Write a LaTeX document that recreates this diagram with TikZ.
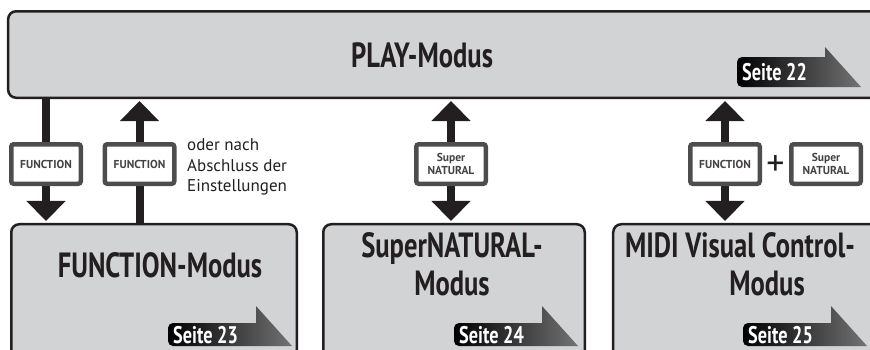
\documentclass[tikz,border=0pt]{standalone}
\usepackage{fontspec}
\setmainfont{PT Sans}
\newfontfamily\condfont[FakeStretch=0.76]{PT Sans}
\usetikzlibrary{arrows.meta,backgrounds,positioning}
\definecolor{boxgray}{RGB}{209,211,212}
\definecolor{inkblack}{RGB}{35,31,32}
\definecolor{framegray}{RGB}{77,77,79}
\tikzset{
  modebox/.style={draw=inkblack, line width=2.5pt, fill=boxgray, rounded corners=8pt, inner sep=0pt},
  modetitle/.style={font=\condfont\bfseries\fontsize{35}{38}\selectfont, text=inkblack, anchor=base, inner sep=0pt},
  btn/.style={draw=framegray, line width=4.5pt, fill=white, rounded corners=2.5pt, minimum width=69.5pt,
    minimum height=39.5pt, inner sep=0pt, align=center, text=inkblack!85, font=\bfseries\fontsize{11.5}{12.5}\selectfont},
  bigarrow/.style={line width=8pt, draw=inkblack, shorten >=2pt, -{Triangle[width=38pt,length=20pt]}},
  tagtext/.style={font=\condfont\bfseries\fontsize{24}{24}\selectfont, text=white, anchor=base west, inner sep=0pt}
}
% x, bottom, top, number
\newcommand{\seitetag}[4]{%
  \shade[left color=black, right color=black!55] ({#1+88},#3) [rounded corners=5pt] -- (#1,#3) -- (#1,#2)
    [sharp corners] -- ({#1+124},#2) -- ({#1+88},{#2-40}) -- cycle;
  \node[tagtext] at ({#1+5},{(#2+#3)/2+8.5}) {Seite #4};
}
\begin{document}
\begin{tikzpicture}[x=1pt, y=-1pt]
  \useasboundingbox (0,0) rectangle (870,349);
  % boxes
  \node[modebox, minimum width=881.75pt, minimum height=86.5pt] (play) at (449,54.5) {};
  \node[modebox, minimum width=285.5pt, minimum height=145.75pt] (fnbox) at (154,297.1) {};
  \node[modebox, minimum width=261.5pt, minimum height=145.75pt] (snbox) at (454,297.1) {};
  \node[modebox, minimum width=286.75pt, minimum height=145.75pt] (midibox) at (756.6,297.1) {};
  \node[modetitle] (playtitle) at (422,67) {PLAY-Modus};
  \node[modetitle] (fntitle) at (160,277) {FUNCTION-Modus};
  \node[modetitle] (sntitleA) at (452,257) {SuperNATURAL-};
  \node[modetitle] (sntitleB) at (452,295) {Modus};
  \node[modetitle] (midititleA) at (740,257) {MIDI Visual Control-};
  \node[modetitle] (midititleB) at (767,295) {Modus};
  \seitetag{737}{87}{57}{22}
  \seitetag{168}{346}{323}{23}
  \seitetag{454}{346}{323}{24}
  \seitetag{743}{346}{323}{25}
  % buttons
  \node[btn] (fnbtnA) at (46,164) {FUNCTION};
  \node[btn] (fnbtnB) at (139.5,164) {FUNCTION};
  \node[btn] (snbtnA) at (451,164) {Super\\NATURAL};
  \node[btn] (fnbtnC) at (725,164) {FUNCTION};
  \node[btn] (snbtnB) at (826,164) {Super\\NATURAL};
  \node[text=inkblack, font=\fontsize{36}{36}\selectfont, inner sep=0pt] (plus) at (775.5,166) {+};
  \node[anchor=west, align=left, text=inkblack, inner sep=0pt, font=\fontsize{17}{20.5}\selectfont] (hint) at (187,167) {oder nach\\Abschluss der\\Einstellungen};
  % connectors
  \begin{scope}[on background layer]
    \draw[bigarrow] (play.south -| fnbtnA) -- (fnbox.north -| fnbtnA);
    \draw[bigarrow] (fnbox.north -| fnbtnB) -- (play.south -| fnbtnB);
    \draw[bigarrow, shorten <=2pt, {Triangle[width=38pt,length=20pt]}-{Triangle[width=38pt,length=20pt]}] (play.south -| snbtnA) -- (snbox.north -| snbtnA);
    \draw[bigarrow, shorten <=2pt, {Triangle[width=38pt,length=20pt]}-{Triangle[width=38pt,length=20pt]}] (play.south -| fnbtnC) -- (midibox.north -| fnbtnC);
  \end{scope}
\end{tikzpicture}
\end{document}
